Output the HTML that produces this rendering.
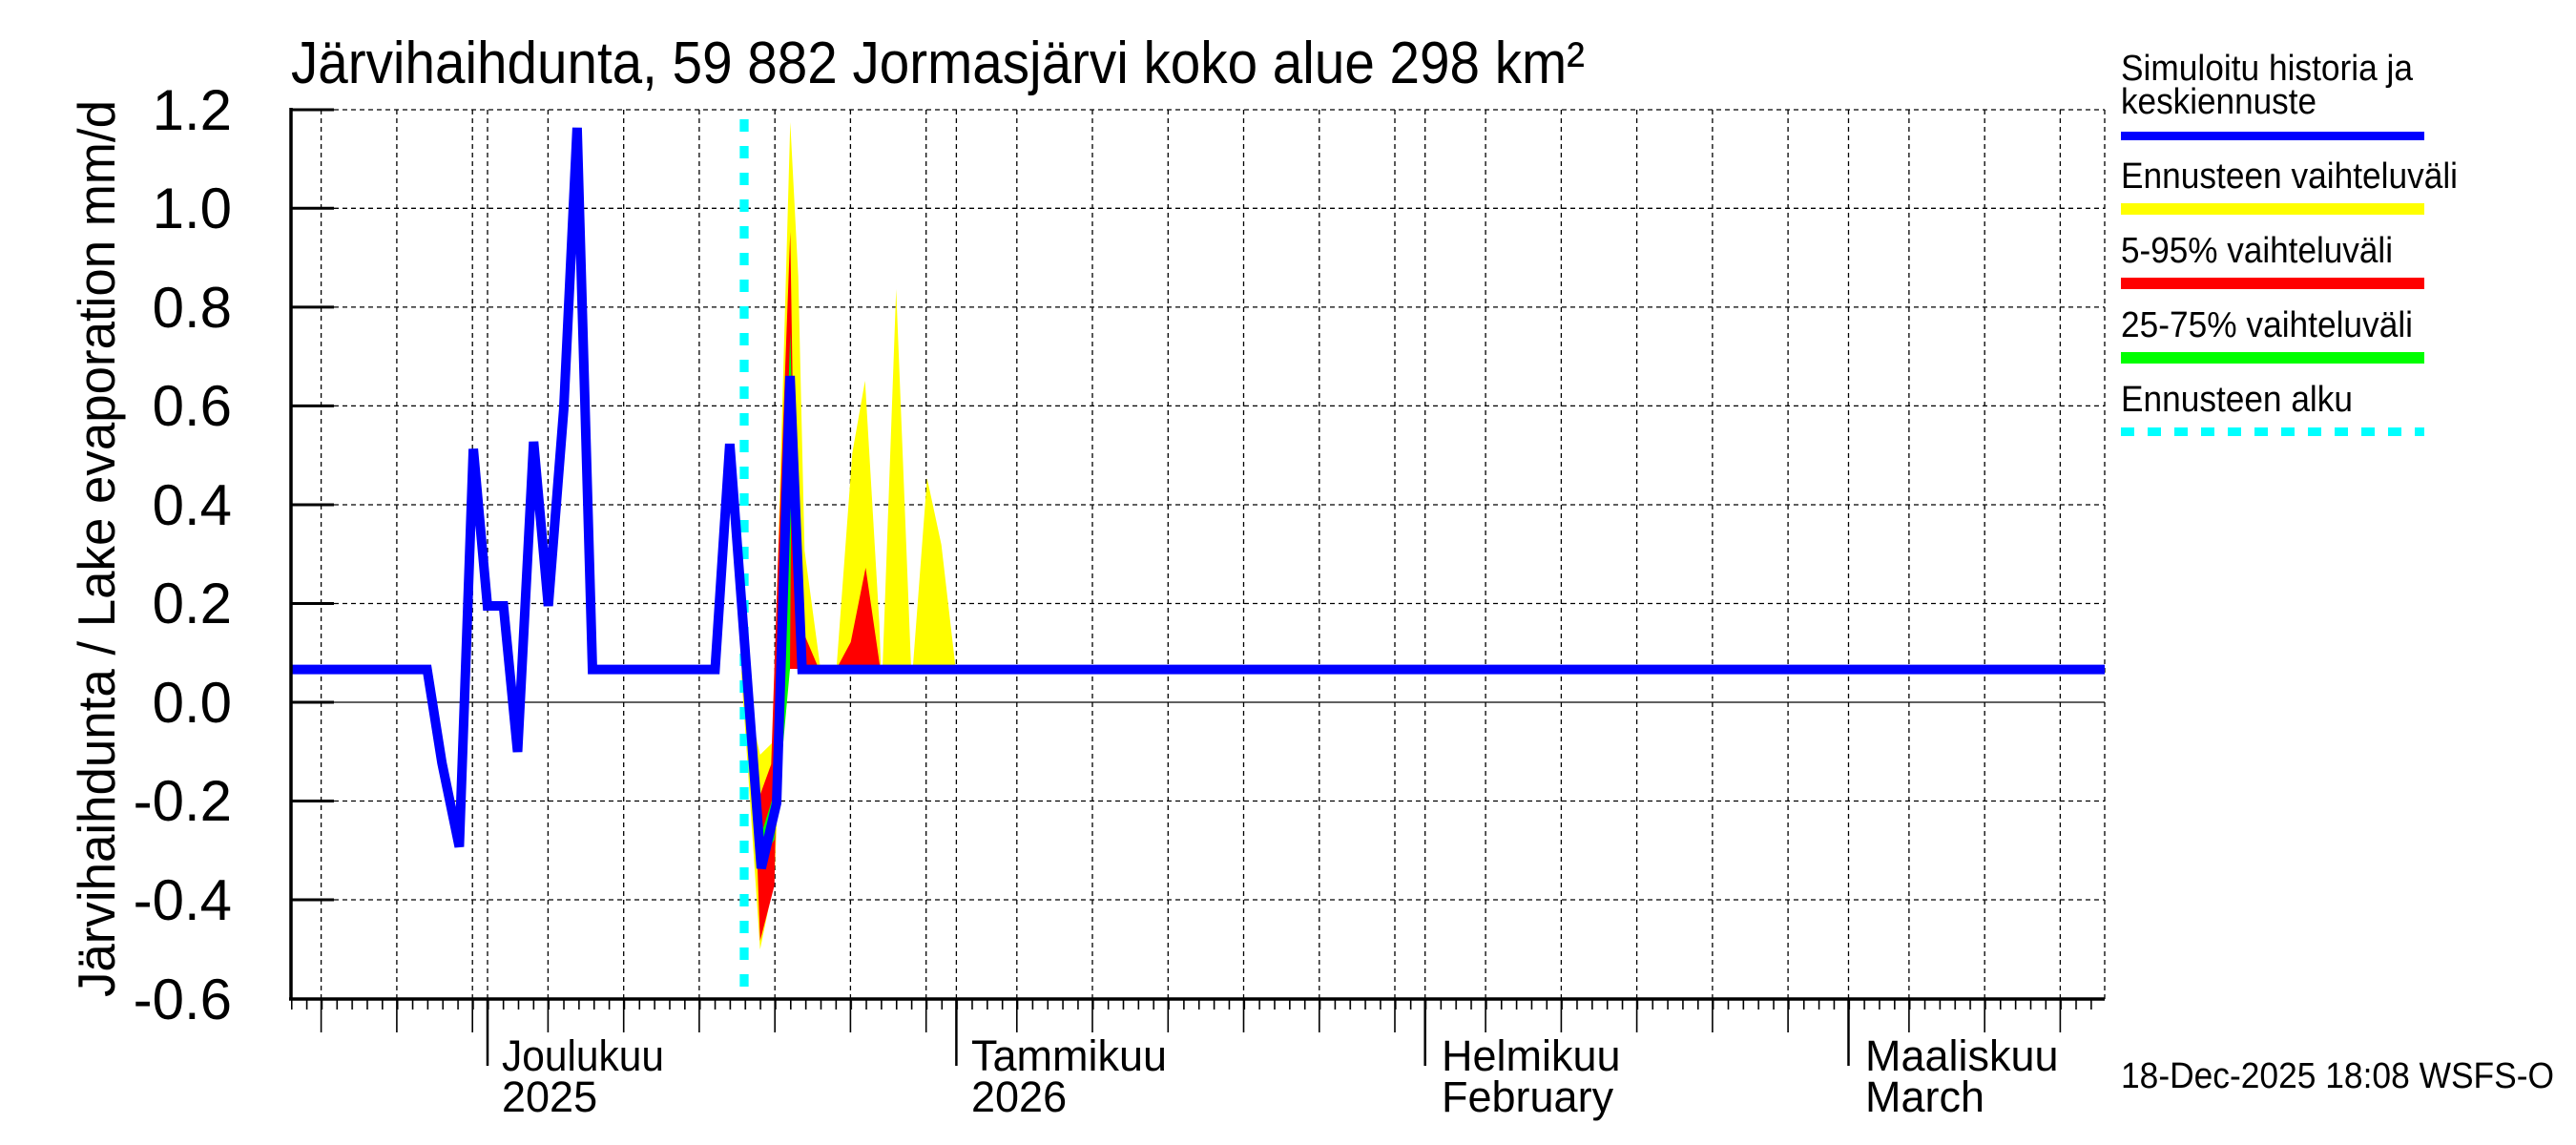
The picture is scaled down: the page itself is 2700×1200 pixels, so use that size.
<!DOCTYPE html>
<html><head><meta charset="utf-8"><style>
html,body{margin:0;padding:0;background:#fff}
svg{display:block}
text{font-family:"Liberation Sans",sans-serif;fill:#000}
</style></head><body>
<svg width="2700" height="1200" viewBox="0 0 2700 1200" xmlns="http://www.w3.org/2000/svg">
<defs>
<pattern id="mt" x="511" y="1047" width="15.85" height="12" patternUnits="userSpaceOnUse">
<rect x="0" y="0" width="1.6" height="12" fill="#000"/>
</pattern>
</defs>
<rect width="2700" height="1200" fill="#fff"/>
<text x="305" y="87" font-size="62" textLength="1356" lengthAdjust="spacingAndGlyphs">Järvihaihdunta, 59 882 Jormasjärvi koko alue 298 km²</text>

<!-- horizontal grid -->
<g stroke="#000" stroke-width="1.3" stroke-dasharray="5,4">
<line x1="305" y1="115" x2="2206" y2="115"/>
<line x1="305" y1="218.3" x2="2206" y2="218.3"/>
<line x1="305" y1="321.9" x2="2206" y2="321.9"/>
<line x1="305" y1="425.4" x2="2206" y2="425.4"/>
<line x1="305" y1="529" x2="2206" y2="529"/>
<line x1="305" y1="632.5" x2="2206" y2="632.5"/>
<line x1="305" y1="839.5" x2="2206" y2="839.5"/>
<line x1="305" y1="943" x2="2206" y2="943"/>
</g>
<line x1="305" y1="736" x2="2206" y2="736" stroke="#000" stroke-width="1.3"/>
<!-- vertical grid -->
<g stroke="#000" stroke-width="1.3" stroke-dasharray="5,4">
<line x1="336.6" y1="115" x2="336.6" y2="1047"/><line x1="415.9" y1="115" x2="415.9" y2="1047"/>
<line x1="495.2" y1="115" x2="495.2" y2="1047"/><line x1="511" y1="115" x2="511" y2="1047"/>
<line x1="574.4" y1="115" x2="574.4" y2="1047"/><line x1="653.7" y1="115" x2="653.7" y2="1047"/>
<line x1="732.9" y1="115" x2="732.9" y2="1047"/><line x1="812.2" y1="115" x2="812.2" y2="1047"/>
<line x1="891.4" y1="115" x2="891.4" y2="1047"/><line x1="970.7" y1="115" x2="970.7" y2="1047"/>
<line x1="1002.4" y1="115" x2="1002.4" y2="1047"/><line x1="1065.8" y1="115" x2="1065.8" y2="1047"/>
<line x1="1145" y1="115" x2="1145" y2="1047"/><line x1="1224.3" y1="115" x2="1224.3" y2="1047"/>
<line x1="1303.5" y1="115" x2="1303.5" y2="1047"/><line x1="1382.8" y1="115" x2="1382.8" y2="1047"/>
<line x1="1462" y1="115" x2="1462" y2="1047"/><line x1="1493.7" y1="115" x2="1493.7" y2="1047"/>
<line x1="1557.1" y1="115" x2="1557.1" y2="1047"/><line x1="1636.4" y1="115" x2="1636.4" y2="1047"/>
<line x1="1715.6" y1="115" x2="1715.6" y2="1047"/><line x1="1794.9" y1="115" x2="1794.9" y2="1047"/>
<line x1="1874.1" y1="115" x2="1874.1" y2="1047"/><line x1="1937.5" y1="115" x2="1937.5" y2="1047"/>
<line x1="2000.9" y1="115" x2="2000.9" y2="1047"/><line x1="2080.2" y1="115" x2="2080.2" y2="1047"/>
<line x1="2159.4" y1="115" x2="2159.4" y2="1047"/><line x1="2206" y1="115" x2="2206" y2="1047"/>
</g>

<!-- bands -->
<g stroke="none">
<polygon fill="#ffff00" points="776.7,701 796.7,791 810,778 820,424 828.3,128 836.7,290 843.3,577 860,701 828,701 820,718 811.7,922 796.7,995"/>
<polygon fill="#ffff00" points="876.7,701 893.3,475 906.7,399 921.7,654 923.3,701"/>
<polygon fill="#ffff00" points="925,701 939.3,303 955,701"/>
<polygon fill="#ffff00" points="956.7,701 971.7,501 986.7,571 1001.7,701"/>
<polygon fill="#ff0000" points="790,760 796.7,833 808.3,801 815,600 828.3,243 831.7,463 835,526 836.7,650 858.3,701 828,701 815,760 811.7,928 796.7,986 790,800"/>
<polygon fill="#ff0000" points="876.7,701 891.7,673 907.3,595 922.7,701"/>
<polygon fill="#00ff00" points="799,871 810,836 826,420 828.3,348 830,420 828,701 811.7,880 799,900"/>
</g>

<!-- forecast start -->
<line x1="780" y1="125" x2="780" y2="1047" stroke="#00ffff" stroke-width="9.3" stroke-dasharray="13,15"/>

<!-- blue -->
<polyline fill="none" stroke="#0000ff" stroke-width="10" stroke-linejoin="miter" stroke-miterlimit="3"
points="305,701.6 447.7,701.6 463.2,799.5 481.4,887.5 496.1,470.5 510.9,635 527.7,635 542.5,788 559.3,463 574.7,635 590.9,428.5 604.9,133.9 621,701.6 749.5,701.6 764.9,465.2 797.9,910 814,841.6 828.1,394 840.7,701.6 2206,701.6"/>

<!-- axes -->
<line x1="305" y1="113" x2="305" y2="1048.5" stroke="#000" stroke-width="3.5"/>
<line x1="303" y1="1047" x2="2206" y2="1047" stroke="#000" stroke-width="3.5"/>
<g stroke="#000" stroke-width="3">
<line x1="305" y1="115" x2="350" y2="115"/><line x1="305" y1="218.3" x2="350" y2="218.3"/>
<line x1="305" y1="321.9" x2="350" y2="321.9"/><line x1="305" y1="425.4" x2="350" y2="425.4"/>
<line x1="305" y1="529" x2="350" y2="529"/><line x1="305" y1="632.5" x2="350" y2="632.5"/>
<line x1="305" y1="736" x2="350" y2="736"/><line x1="305" y1="839.5" x2="350" y2="839.5"/>
<line x1="305" y1="943" x2="350" y2="943"/>
</g>
<rect x="305" y="1047" width="1901" height="11" fill="url(#mt)"/>
<g stroke="#000" stroke-width="1.6">
<line x1="336.6" y1="1047" x2="336.6" y2="1082"/><line x1="415.9" y1="1047" x2="415.9" y2="1082"/>
<line x1="495.2" y1="1047" x2="495.2" y2="1082"/>
<line x1="574.4" y1="1047" x2="574.4" y2="1082"/><line x1="653.7" y1="1047" x2="653.7" y2="1082"/>
<line x1="732.9" y1="1047" x2="732.9" y2="1082"/><line x1="812.2" y1="1047" x2="812.2" y2="1082"/>
<line x1="891.4" y1="1047" x2="891.4" y2="1082"/><line x1="970.7" y1="1047" x2="970.7" y2="1082"/>
<line x1="1065.8" y1="1047" x2="1065.8" y2="1082"/>
<line x1="1145" y1="1047" x2="1145" y2="1082"/><line x1="1224.3" y1="1047" x2="1224.3" y2="1082"/>
<line x1="1303.5" y1="1047" x2="1303.5" y2="1082"/><line x1="1382.8" y1="1047" x2="1382.8" y2="1082"/>
<line x1="1462" y1="1047" x2="1462" y2="1082"/>
<line x1="1557.1" y1="1047" x2="1557.1" y2="1082"/><line x1="1636.4" y1="1047" x2="1636.4" y2="1082"/>
<line x1="1715.6" y1="1047" x2="1715.6" y2="1082"/><line x1="1794.9" y1="1047" x2="1794.9" y2="1082"/>
<line x1="1874.1" y1="1047" x2="1874.1" y2="1082"/>
<line x1="2000.9" y1="1047" x2="2000.9" y2="1082"/><line x1="2080.2" y1="1047" x2="2080.2" y2="1082"/>
<line x1="2159.4" y1="1047" x2="2159.4" y2="1082"/>
</g>
<g stroke="#000" stroke-width="2.5">
<line x1="511" y1="1047" x2="511" y2="1117"/><line x1="1002.4" y1="1047" x2="1002.4" y2="1117"/>
<line x1="1493.7" y1="1047" x2="1493.7" y2="1117"/><line x1="1937.5" y1="1047" x2="1937.5" y2="1117"/>
</g>

<!-- y labels -->
<g font-size="60" text-anchor="end">
<text x="243" y="136">1.2</text>
<text x="243" y="239">1.0</text>
<text x="243" y="343">0.8</text>
<text x="243" y="446">0.6</text>
<text x="243" y="550">0.4</text>
<text x="243" y="653">0.2</text>
<text x="243" y="757">0.0</text>
<text x="243" y="860">-0.2</text>
<text x="243" y="964">-0.4</text>
<text x="243" y="1068">-0.6</text>
</g>
<text transform="translate(120,575) rotate(-90)" font-size="55" text-anchor="middle" textLength="940" lengthAdjust="spacingAndGlyphs">Järvihaihdunta / Lake evaporation   mm/d</text>

<!-- x labels -->
<g font-size="45">
<text x="526" y="1122" textLength="170" lengthAdjust="spacingAndGlyphs">Joulukuu</text><text x="526" y="1165">2025</text>
<text x="1018" y="1122">Tammikuu</text><text x="1018" y="1165">2026</text>
<text x="1511" y="1122">Helmikuu</text><text x="1511" y="1165">February</text>
<text x="1955" y="1122">Maaliskuu</text><text x="1955" y="1165">March</text>
</g>

<!-- legend -->
<g font-size="38">
<text x="2223" y="84" textLength="306" lengthAdjust="spacingAndGlyphs">Simuloitu historia ja</text>
<text x="2223" y="119" textLength="205" lengthAdjust="spacingAndGlyphs">keskiennuste</text>
<text x="2223" y="197" textLength="353" lengthAdjust="spacingAndGlyphs">Ennusteen vaihteluväli</text>
<text x="2223" y="275" textLength="285" lengthAdjust="spacingAndGlyphs">5-95% vaihteluväli</text>
<text x="2223" y="353" textLength="306" lengthAdjust="spacingAndGlyphs">25-75% vaihteluväli</text>
<text x="2223" y="431" textLength="243" lengthAdjust="spacingAndGlyphs">Ennusteen alku</text>
<text x="2223" y="1140" textLength="454" lengthAdjust="spacingAndGlyphs">18-Dec-2025 18:08 WSFS-O</text>
</g>
<rect x="2223" y="138" width="318" height="9" fill="#0000ff"/>
<rect x="2223" y="213" width="318" height="12" fill="#ffff00"/>
<rect x="2223" y="291" width="318" height="12" fill="#ff0000"/>
<rect x="2223" y="369" width="318" height="12" fill="#00ff00"/>
<line x1="2223" y1="452.5" x2="2541" y2="452.5" stroke="#00ffff" stroke-width="9" stroke-dasharray="14,14"/>
</svg>
</body></html>
